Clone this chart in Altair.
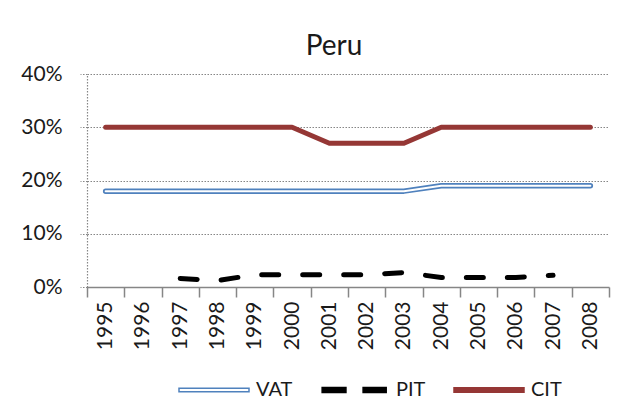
import altair as alt
import pandas as pd

years = ["1995", "1996", "1997", "1998", "1999", "2000", "2001",
         "2002", "2003", "2004", "2005", "2006", "2007", "2008"]
vat = [0.18, 0.18, 0.18, 0.18, 0.18, 0.18, 0.18, 0.18, 0.18, 0.19, 0.19, 0.19, 0.19, 0.19]
pit = [None, None, 0.016, 0.012, 0.023, 0.023, 0.023, 0.023, 0.027, 0.018, 0.018, 0.018, 0.022, None]
cit = [0.30, 0.30, 0.30, 0.30, 0.30, 0.30, 0.27, 0.27, 0.27, 0.30, 0.30, 0.30, 0.30, 0.30]
series_names = ["VAT", "PIT", "CIT"]

rows = []
for name, vals in zip(series_names, [vat, pit, cit]):
    for yr, v in zip(years, vals):
        if v is not None:
            rows.append({"year": yr, "series": name, "value": v})
df = pd.DataFrame(rows)

FONT = "Lato"
TXT = "#1a1a1a"
GRAY = "#868686"

x = alt.X(
    "year:O",
    scale=alt.Scale(type="band", domain=years, paddingInner=0, paddingOuter=0),
    axis=alt.Axis(title=None, labelAngle=-90, tickBand="extent", grid=False,
                  labelFont=FONT, labelFontSize=21, labelColor=TXT, labelPadding=4,
                  domainColor=GRAY, domainWidth=1.5, tickColor=GRAY, tickWidth=1.5,
                  tickSize=10),
)
y = alt.Y(
    "value:Q",
    scale=alt.Scale(domain=[0, 0.4], nice=False),
    axis=alt.Axis(title=None, values=[0, 0.1, 0.2, 0.3, 0.4], format=".0%", grid=True,
                  gridColor=GRAY, gridDash=[1.5, 1.5], gridWidth=1.2,
                  domainColor=GRAY, domainDash=[1.5, 1.5], domainWidth=1.2,
                  tickColor=GRAY, tickDash=[1.5, 1.5], tickWidth=1.2, tickSize=7,
                  labelFont=FONT, labelFontSize=21, labelColor=TXT, labelPadding=18),
)

base = alt.Chart(df).encode(x=x, y=y)

vat_outer = base.transform_filter(alt.datum.series == "VAT").mark_line(
    color="#4F81BD", strokeWidth=5.5, strokeCap="round", strokeJoin="round")
vat_inner = base.transform_filter(alt.datum.series == "VAT").mark_line(
    color="white", strokeWidth=2, strokeCap="round", strokeJoin="round")
pit_line = base.transform_filter(alt.datum.series == "PIT").mark_line(
    color="black", strokeWidth=5, strokeDash=[17, 24], strokeCap="round")
cit_line = base.transform_filter(alt.datum.series == "CIT").mark_line(
    color="#953735", strokeWidth=5, strokeCap="round", strokeJoin="round")

shape_paths = [
    "M-1,-0.05H1V0.05H-1Z",
    "M-0.91,-0.07H-0.23V0.07H-0.91Z M0.26,-0.07H0.92V0.07H0.26Z",
    "M-1,-0.065H1V0.065H-1Z",
]
legend_cfg = dict(title=None, orient="none", legendX=91, legendY=280, direction="horizontal",
                  columns=3, symbolSize=4900, symbolStrokeWidth=1.5, symbolOpacity=1,
                  labelFont=FONT, labelFontSize=20, labelColor=TXT, labelOffset=6,
                  labelLimit=0, labelBaseline="middle", columnPadding=25)

legend_layer = base.transform_filter("false").mark_point(filled=True, opacity=1).encode(
    shape=alt.Shape("series:N", scale=alt.Scale(domain=series_names, range=shape_paths),
                    legend=alt.Legend(**legend_cfg)),
    fill=alt.Fill("series:N", scale=alt.Scale(domain=series_names,
                                              range=["white", "black", "#953735"]),
                  legend=alt.Legend(**legend_cfg)),
    stroke=alt.Stroke("series:N", scale=alt.Scale(domain=series_names,
                                                  range=["#4F81BD", "black", "#953735"]),
                      legend=alt.Legend(**legend_cfg)),
)

chart = alt.layer(vat_outer, vat_inner, pit_line, cit_line, legend_layer).properties(
    width=522,
    height=213,
    title=alt.TitleParams("Peru", font=FONT, fontSize=28, fontWeight="normal", color=TXT,
                          anchor="middle", dx=-14, offset=2),
    autosize=alt.AutoSizeParams(type="none"),
    padding={"left": 79, "top": 66, "right": 7, "bottom": 112},
    background="white",
).configure_view(stroke=None)

chart.save("out.html", embed_options={"renderer": "svg", "actions": False})
